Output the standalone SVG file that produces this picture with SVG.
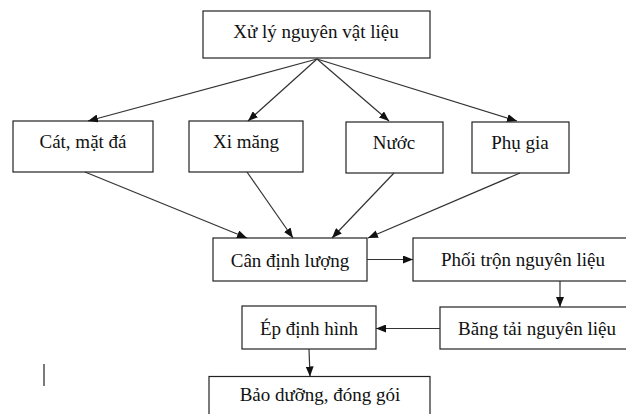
<svg xmlns="http://www.w3.org/2000/svg" width="626" height="414" viewBox="0 0 626 414">
<style>
  rect { fill: #ffffff; stroke: #222222; stroke-width: 1.2; }
  text { font-family: "Liberation Serif", "Times New Roman", serif; font-size: 19px; fill: #111111; text-anchor: middle; }
  .conn line { stroke: #333333; stroke-width: 1.2; marker-end: url(#arrow); }
</style>
<defs>
  <marker id="arrow" markerUnits="userSpaceOnUse" markerWidth="10" markerHeight="8" refX="10" refY="4" orient="auto">
    <path d="M0,0 L10,4 L0,8 Z" fill="#111111"/>
  </marker>
</defs>
<rect x="0" y="0" width="626" height="414" style="fill:#ffffff;stroke:none"/>

<g id="xu-ly"><rect x="203" y="11" width="227" height="47"/><text x="316" y="37.5">Xử lý nguyên vật liệu</text></g>
<g id="cat"><rect x="13" y="121" width="140" height="51"/><text x="83" y="148">Cát, mặt đá</text></g>
<g id="xi-mang"><rect x="189" y="121" width="114" height="51"/><text x="246" y="148">Xi măng</text></g>
<g id="nuoc"><rect x="346" y="122" width="97" height="51"/><text x="394" y="148.5">Nước</text></g>
<g id="phu-gia"><rect x="472" y="122" width="97" height="51"/><text x="520" y="148.5">Phụ gia</text></g>
<g id="can"><rect x="213" y="238" width="154" height="43"/><text x="290" y="266.5">Cân định lượng</text></g>
<g id="phoi-tron"><rect x="413" y="238" width="219" height="43"/><text x="523" y="266">Phối trộn nguyên liệu</text></g>
<g id="bang-tai"><rect x="440" y="307" width="192" height="42"/><text x="537" y="335">Băng tải nguyên liệu</text></g>
<g id="ep"><rect x="242" y="306" width="134" height="43"/><text x="309" y="334.5">Ép định hình</text></g>
<g id="bao-duong"><rect x="209" y="376.5" width="221" height="50"/><text x="320" y="401">Bảo dưỡng, đóng gói</text></g>

<g class="conn" id="connectors">
  <line x1="317" y1="59" x2="88" y2="121"/>
  <line x1="317" y1="59" x2="248" y2="121"/>
  <line x1="317" y1="59" x2="389" y2="121"/>
  <line x1="317" y1="59" x2="517" y2="121"/>
  <line x1="85" y1="172" x2="247" y2="238"/>
  <line x1="247" y1="172" x2="293" y2="238"/>
  <line x1="394" y1="173" x2="332" y2="238"/>
  <line x1="520" y1="173" x2="368" y2="238"/>
  <line x1="367" y1="259.5" x2="413" y2="259.5"/>
  <line x1="560" y1="281" x2="560" y2="307"/>
  <line x1="440" y1="328.5" x2="376" y2="328.5"/>
  <line x1="309" y1="349" x2="310" y2="376.5"/>
</g>
<line x1="44" y1="364" x2="44" y2="386" stroke="#222222" stroke-width="1.2"/>
</svg>
